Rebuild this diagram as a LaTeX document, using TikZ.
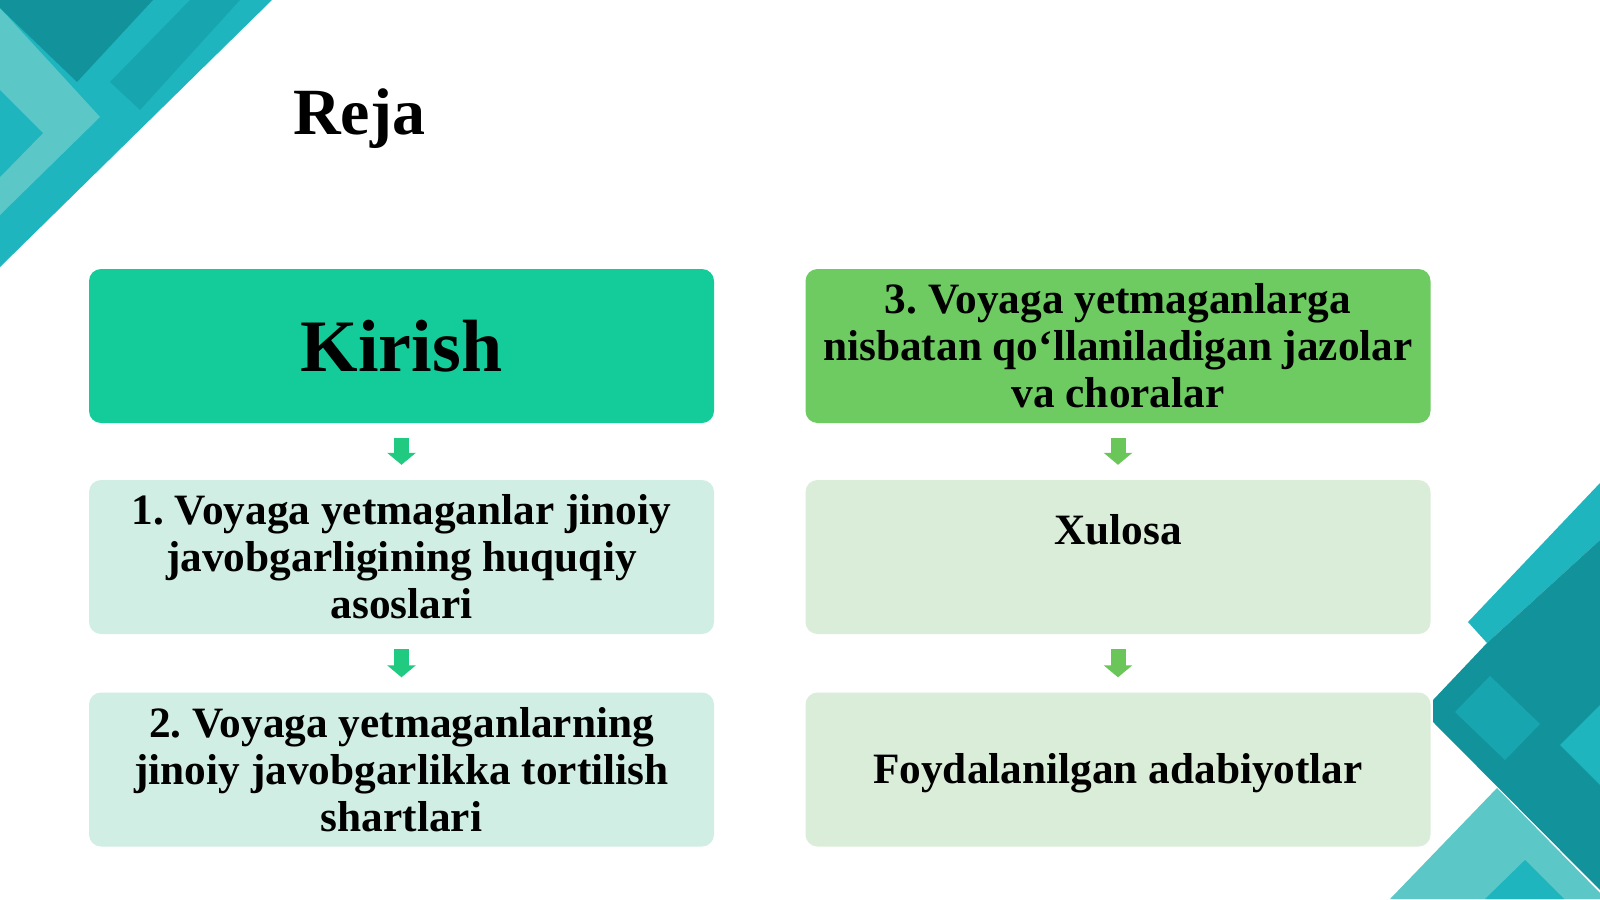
\documentclass[tikz,border=0pt]{standalone}
\usepackage{fontspec}
\setmainfont{Liberation Serif}
\frenchspacing
\usetikzlibrary{arrows.meta,calc}
\definecolor{tealA}{HTML}{1EB5BF}
\definecolor{tealD}{HTML}{12939B}
\definecolor{tealM}{HTML}{17A6AF}
\definecolor{tealL}{HTML}{5CC7C7}
\definecolor{kirC}{HTML}{14CC9A}
\definecolor{grnC}{HTML}{6DCB61}
\definecolor{paleL}{HTML}{D1EEE5}
\definecolor{paleR}{HTML}{DAEDD8}
\definecolor{arrL}{HTML}{20CA80}
\definecolor{arrR}{HTML}{6BC65A}
\begin{document}
\begin{tikzpicture}[x=1pt,y=-1pt,
  box/.style={rounded corners=12pt, minimum width=625pt, minimum height=154pt,
    inner sep=0pt, align=center, text=black,
    font=\bfseries\fontsize{43.3}{47}\selectfont},
  flowarrow/.style={line width=15pt, -{Triangle[width=28pt,length=12pt]}, shorten <=15pt, shorten >=15pt}]
\useasboundingbox (0,0) rectangle (1600,899);
\fill[white] (0,0) rectangle (1600,899);
% top-left decoration
\fill[tealA] (0,0) -- (272,0) -- (0,267) -- cycle;
\fill[tealM] (110,82) -- (190,0) -- (240,0) -- (140,110) -- cycle;
\fill[tealL] (0,8) -- (100,117) -- (0,215) -- cycle;
\fill[tealA] (0,90) -- (43,133) -- (0,177) -- cycle;
\fill[tealD] (0,0) -- (153,0) -- (77,82) -- (0,8) -- cycle;
% bottom-right decoration
\fill[tealA] (1600,483) -- (1468,622) -- (1487,643) -- (1600,540) -- cycle;
\fill[tealL] (1540,648) -- (1600,588) -- (1600,622) -- (1560,664) -- cycle;
\fill[tealD] (1487,643) -- (1433,700) -- (1433,722) -- (1600,890) -- (1600,540) -- cycle;
\fill[tealM] (1455,712) -- (1490,676) -- (1540,724) -- (1505,760) -- cycle;
\fill[tealA] (1560,745) -- (1600,705) -- (1600,785) -- cycle;
\fill[tealL] (1497,788) -- (1600,893) -- (1600,899) -- (1390,899) -- cycle;
\fill[tealA] (1485,899) -- (1525,860) -- (1564,899) -- cycle;
% title
\node[anchor=base west, inner sep=0pt, font=\bfseries\fontsize{66}{72}\selectfont] (title) at (293,134) {Reja};
% boxes
\node[box, fill=kirC, font=\bfseries\fontsize{74}{80}\selectfont] (kir) at (401.5,346) {Kirish};
\node[box, fill=paleL] (b1) at (401.5,557) {1. Voyaga yetmaganlar jinoiy\\javobgarligining huquqiy\\asoslari};
\node[box, fill=paleL] (b2) at (401.5,769.5) {2. Voyaga yetmaganlarning\\jinoiy javobgarlikka tortilish\\shartlari};
\node[box, fill=grnC] (b3) at (1118,346) {3. Voyaga yetmaganlarga\\nisbatan qo‘llaniladigan jazolar\\va choralar};
\node[box, fill=paleR] (xul) at (1118,557) {Xulosa\\[9pt]\mbox{}};
\node[box, fill=paleR, text height=38pt, text depth=10pt] (foy) at (1118,769.5) {Foydalanilgan adabiyotlar};
% arrows
\draw[flowarrow, arrL] (kir.south) -- (b1.north);
\draw[flowarrow, arrL] (b1.south) -- (b2.north);
\draw[flowarrow, arrR] (b3.south) -- (xul.north);
\draw[flowarrow, arrR] (xul.south) -- (foy.north);
\end{tikzpicture}
\end{document}
